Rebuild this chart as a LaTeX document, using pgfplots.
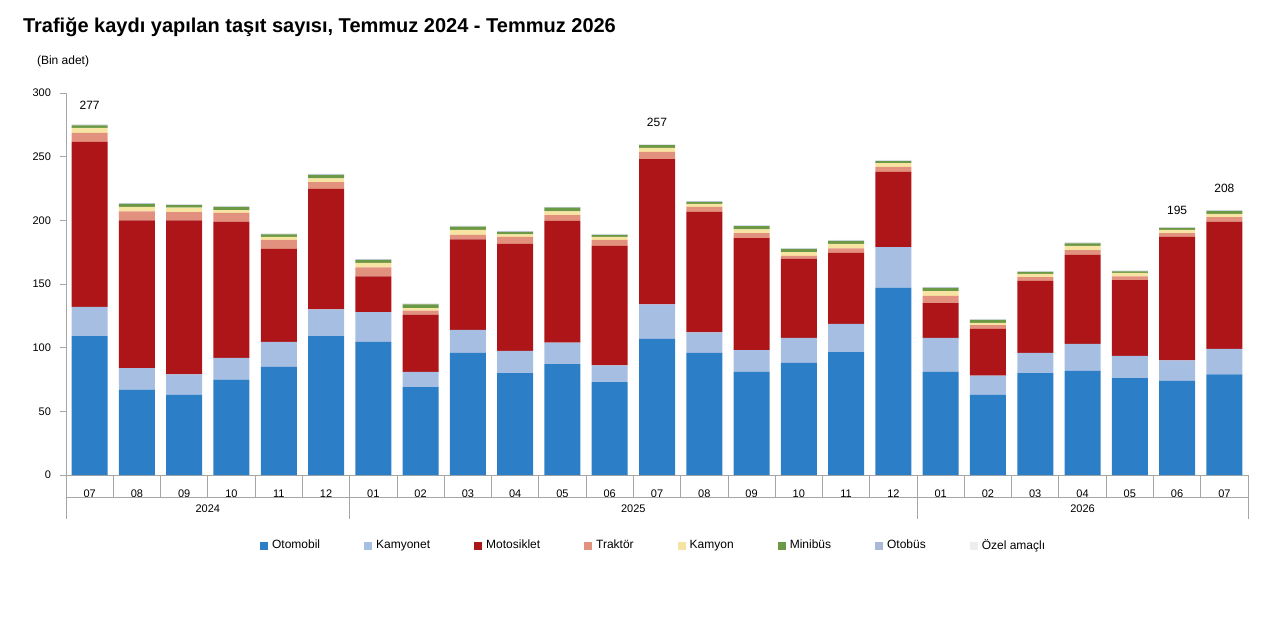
\documentclass[border=0pt]{standalone}
\usepackage{pgfplots}
\pgfplotsset{compat=1.18}
\usepackage{fontspec}
\setmainfont{Liberation Sans}
\definecolor{coto}{HTML}{2C7FC6}
\definecolor{ckyt}{HTML}{A6BEE2}
\definecolor{cmot}{HTML}{AE1519}
\definecolor{ctra}{HTML}{E3917F}
\definecolor{ckam}{HTML}{F8E4A2}
\definecolor{cmin}{HTML}{6B9945}
\definecolor{cotb}{HTML}{AAB8D8}
\definecolor{cozl}{HTML}{EEEEEE}
\begin{document}
\begin{tikzpicture}[x=1pt,y=1pt]
\path (-33,-73.5) rectangle (607,237.5);
\node[anchor=west,font=\bfseries\fontsize{10}{12}\selectfont] at (-25,224) {Trafiğe kaydı yapılan taşıt sayısı, Temmuz 2024 - Temmuz 2026};
\node[anchor=west,font=\fontsize{6}{7}\selectfont] at (-18,207) {(Bin adet)};
\begin{axis}[at={(0,0)},anchor=south west, scale only axis, width=591pt, height=191pt,
 ybar stacked, bar width=18pt, xmin=-0.5, xmax=24.5, ymin=0, ymax=300,
 ytick={0,50,...,300}, xtick={0,...,24},
 xticklabels={07,08,09,10,11,12,01,02,03,04,05,06,07,08,09,10,11,12,01,02,03,04,05,06,07},
 axis x line*=bottom, axis y line*=left, x axis line style={draw=gray!70}, y axis line style={draw=gray!70},
 xtick style={draw=none}, ytick style={draw=gray!70}, tick align=outside, major tick length=3pt,
 tick label style={font=\fontsize{5.5}{6}\selectfont}, /pgf/number format/assume math mode=true,
 yticklabel style={xshift=-1pt}, xticklabel style={yshift=-1pt},
 clip=false,
 legend style={at={(0.498,-0.186)},anchor=center,draw=none,legend columns=8,font=\fontsize{6}{7}\selectfont,
   /tikz/every even column/.append style={column sep=20pt}},
 legend image code/.code={\fill[#1] (0,-2pt) rectangle (4pt,2pt);},
 draw=none]
\addplot[fill=coto,draw=none] coordinates {(0,109)(1,67)(2,63)(3,75)(4,85)(5,109)(6,104.5)(7,69)(8,96)(9,80)(10,87)(11,73)(12,107)(13,96)(14,81)(15,88)(16,96.6)(17,147)(18,81)(19,63)(20,80)(21,81.7)(22,76)(23,74)(24,79)};
\addplot[fill=ckyt,draw=none] coordinates {(0,23)(1,17)(2,16)(3,17)(4,19.5)(5,21)(6,23.5)(7,12)(8,18)(9,17.5)(10,17)(11,13)(12,27)(13,16)(14,17)(15,19.6)(16,22)(17,32)(18,26.6)(19,15)(20,16)(21,21.3)(22,17.5)(23,16)(24,20)};
\addplot[fill=cmot,draw=none] coordinates {(0,129.6)(1,116)(2,121)(3,107)(4,73)(5,94.7)(6,28)(7,45)(8,71)(9,84)(10,95.5)(11,94)(12,114)(13,94.6)(14,88)(15,62.4)(16,55.8)(17,59)(18,27.4)(19,36.7)(20,56.4)(21,69.8)(22,59.5)(23,97)(24,99.7)};
\addplot[fill=ctra,draw=none] coordinates {(0,7)(1,7)(2,6.5)(3,6.8)(4,7.1)(5,5.3)(6,7)(7,3)(8,3.5)(9,5.5)(10,4.5)(11,4.6)(12,5.7)(13,3.9)(14,4)(15,2)(16,3.6)(17,4)(18,5.6)(19,3.1)(20,3.1)(21,3.9)(22,3)(23,3)(24,3.9)};
\addplot[fill=ckam,draw=none] coordinates {(0,4)(1,3.5)(2,3.5)(3,2.2)(4,2.4)(5,3)(6,3.5)(7,2)(8,4)(9,2)(10,3)(11,2.4)(12,3.3)(13,2.5)(14,3)(15,3)(16,3.5)(17,3)(18,3.9)(19,1.6)(20,2.5)(21,3.3)(22,2.7)(23,2.5)(24,2.4)};
\addplot[fill=cmin,draw=none] coordinates {(0,2)(1,2.5)(2,2)(3,2.5)(4,2)(5,2.7)(6,2.5)(7,3)(8,2.5)(9,2)(10,3)(11,1.5)(12,2)(13,1.5)(14,2.5)(15,2.5)(16,2.3)(17,1.6)(18,2.5)(19,2.4)(20,1.5)(21,2)(22,1.3)(23,1.5)(24,2.4)};
\addplot[fill=cotb,draw=none] coordinates {(0,0.3)(1,0.3)(2,0.3)(3,0.3)(4,0.3)(5,0.3)(6,0.3)(7,0.3)(8,0.3)(9,0.3)(10,0.3)(11,0.3)(12,0.3)(13,0.3)(14,0.3)(15,0.3)(16,0.3)(17,0.3)(18,0.3)(19,0.3)(20,0.3)(21,0.3)(22,0.3)(23,0.3)(24,0.3)};
\addplot[fill=cozl,draw=none] coordinates {(0,0.8)(1,0.5)(2,0.5)(3,0.5)(4,0.5)(5,0.5)(6,0.5)(7,0.5)(8,0.5)(9,0.5)(10,0.5)(11,0.5)(12,0.6)(13,0.5)(14,0.5)(15,0.5)(16,0.5)(17,0.5)(18,0.5)(19,0.5)(20,0.5)(21,0.5)(22,0.5)(23,0.5)(24,0.5)};
\legend{Otomobil,Kamyonet,Motosiklet,Traktör,Kamyon,Minibüs,Otobüs,Özel amaçlı}
\node[font=\fontsize{6}{7}\selectfont] at (axis cs:0,290) {277};
\node[font=\fontsize{6}{7}\selectfont] at (axis cs:12,277) {257};
\node[font=\fontsize{6}{7}\selectfont] at (axis cs:23,208) {195};
\node[font=\fontsize{6}{7}\selectfont] at (axis cs:24,225) {208};
\pgfplotsinvokeforeach{-0.5,0.5,1.5,2.5,3.5,4.5,5.5,6.5,7.5,8.5,9.5,10.5,11.5,12.5,13.5,14.5,15.5,16.5,17.5,18.5,19.5,20.5,21.5,22.5,23.5,24.5}{\draw[gray!70] (axis cs:#1,0) -- ([yshift=-11pt]axis cs:#1,0);}
\draw[gray!70] ([yshift=-11pt]axis cs:-0.5,0) -- ([yshift=-11pt]axis cs:24.5,0);
\pgfplotsinvokeforeach{-0.5,5.5,17.5,24.5}{\draw[gray!70] (axis cs:#1,0) -- ([yshift=-22pt]axis cs:#1,0);}
\node[font=\fontsize{5.5}{6}\selectfont,yshift=-17pt] at (axis cs:2.5,0) {2024};
\node[font=\fontsize{5.5}{6}\selectfont,yshift=-17pt] at (axis cs:11.5,0) {2025};
\node[font=\fontsize{5.5}{6}\selectfont,yshift=-17pt] at (axis cs:21,0) {2026};
\end{axis}
\end{tikzpicture}
\end{document}
